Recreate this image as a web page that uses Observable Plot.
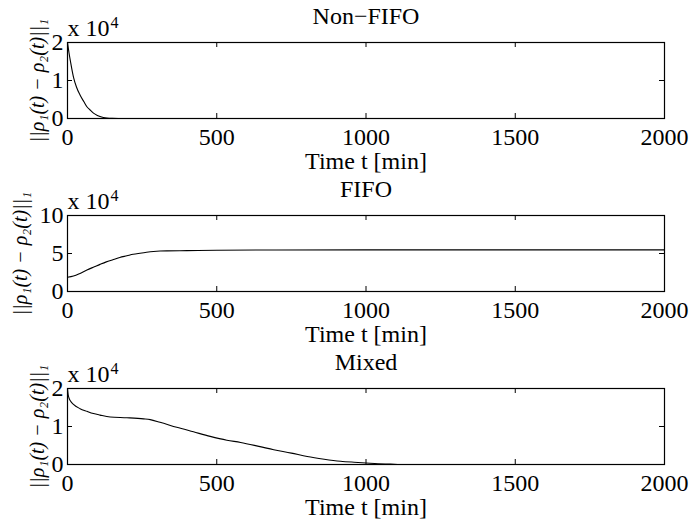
<!DOCTYPE html>
<html><head><meta charset="utf-8">
<script src="https://cdn.jsdelivr.net/npm/d3@7"></script>
<script src="https://cdn.jsdelivr.net/npm/@observablehq/plot@0.6"></script>
<style>
body{margin:0;background:#fff}
#chart svg{display:block}
#chart svg text{font-family:"Liberation Serif","Tinos","DejaVu Serif",serif !important}
</style>
</head><body><div id="chart"></div>
<script>
const titles = ["Non\u2212FIFO", "FIFO", "Mixed"];
const xLabel = "Time t [min]";
const yLabel = "||\u03c1\u2081(t) \u2212 \u03c1\u2082(t)||\u2081";
const scaleText = "x 10";
const scaleExp = "4";
const xTicks = [0, 500, 1000, 1500, 2000];
const yTicksNonFifo = [0, 10000, 20000];
const yTicksFifo = [0, 50000, 100000];
const yTicksMixed = [0, 10000, 20000];

const tNonFifo = [0, 5, 10, 20, 30, 42, 55, 65, 75, 87, 100, 109, 120, 132, 150, 170, 2000];
const vNonFifo = [20000, 17300, 15000, 10900, 8300, 6200, 4400, 3100, 2300, 1400, 800, 500, 250, 100, 20, 0, 0];

const tFifo = [0, 20, 40, 65, 90, 109, 130, 154, 175, 199, 220, 243, 265, 288, 310, 333, 400, 500, 700, 1000, 1500, 2000];
const vFifo = [18700, 20400, 23500, 28300, 32500, 35700, 39000, 42000, 44800, 47000, 49000, 50400, 51600, 52600, 53200, 53500, 53800, 54300, 54600, 54800, 54800, 54800];

const tMixed = [0, 2, 5, 10, 20, 42, 65, 87, 109, 143, 199, 255, 277, 310, 366, 422, 478, 534, 580, 645, 691, 750, 803, 860, 915, 960, 1000, 1040, 1082, 1115, 2000];
const vMixed = [20000, 18500, 17500, 16700, 15800, 14700, 14000, 13400, 13000, 12500, 12300, 12000, 11800, 11100, 9800, 8600, 7400, 6400, 5800, 4700, 3900, 3000, 2100, 1400, 870, 600, 400, 200, 100, 0, 0];

const FONT = "Liberation Serif, Tinos, DejaVu Serif, serif";
const W = 690, ML = 67, MR = 26;

function panel({title, t, v, yMax, yTicks, height, mt, mb, labelDx}) {
  const data = t.map((d, i) => ({t: d, v: v[i]}));
  const plotH = height - mt - mb;
  const plotW = W - ML - MR;
  const tl = 5;
  const txt = {fontFamily: FONT};
  return Plot.plot({
    width: W, height, marginTop: mt, marginBottom: mb, marginLeft: ML, marginRight: MR,
    style: {fontFamily: FONT, fontSize: "24px", background: "white", color: "black"},
    x: {domain: [0, 2000], ticks: xTicks, tickSize: 0, tickPadding: 9, label: null, tickFormat: d => String(d)},
    y: {domain: [0, yMax], ticks: yTicks, tickSize: 0, tickPadding: 4, label: null, tickFormat: d => String(d / 1e4)},
    marks: [
      Plot.line(data, {x: "t", y: "v", stroke: "black", strokeWidth: 1.1, curve: "monotone-x"}),
      Plot.ruleX(xTicks, {x: d => d, insetTop: plotH - tl, stroke: "black"}),
      Plot.ruleX(xTicks, {x: d => d, insetBottom: plotH - tl, stroke: "black"}),
      Plot.ruleY(yTicks, {y: d => d, insetRight: plotW - tl, stroke: "black"}),
      Plot.ruleY(yTicks, {y: d => d, insetLeft: plotW - tl, stroke: "black"}),
      Plot.frame({stroke: "black", strokeWidth: 1.2}),
      Plot.text([title], {...txt, text: d => d, frameAnchor: "top", lineAnchor: "bottom", dy: -19, fontSize: 24}),
      Plot.text([xLabel], {...txt, text: d => d, frameAnchor: "bottom", lineAnchor: "bottom", dy: 50, fontSize: 24}),
      Plot.text([scaleText], {...txt, text: d => d, frameAnchor: "top-left", textAnchor: "start", lineAnchor: "bottom", dy: -7, fontSize: 24}),
      Plot.text([scaleExp], {...txt, text: d => d, frameAnchor: "top-left", textAnchor: "start", lineAnchor: "bottom", dx: 43, dy: -15, fontSize: 16}),
      Plot.text([yLabel], {...txt, text: d => d, frameAnchor: "left", textAnchor: "middle", lineAnchor: "middle", rotate: -90, dx: labelDx, fontSize: 20, fontStyle: "italic"})
    ]
  });
}

const root = document.getElementById("chart");
root.append(panel({title: titles[0], t: tNonFifo, v: vNonFifo, yMax: 20000, yTicks: yTicksNonFifo, height: 174, mt: 42, mb: 56, labelDx: -30}));
root.append(panel({title: titles[1], t: tFifo, v: vFifo, yMax: 100000, yTicks: yTicksFifo, height: 174, mt: 41, mb: 57, labelDx: -47}));
root.append(panel({title: titles[2], t: tMixed, v: vMixed, yMax: 20000, yTicks: yTicksMixed, height: 175, mt: 40, mb: 59, labelDx: -30}));
</script>
</body></html>
